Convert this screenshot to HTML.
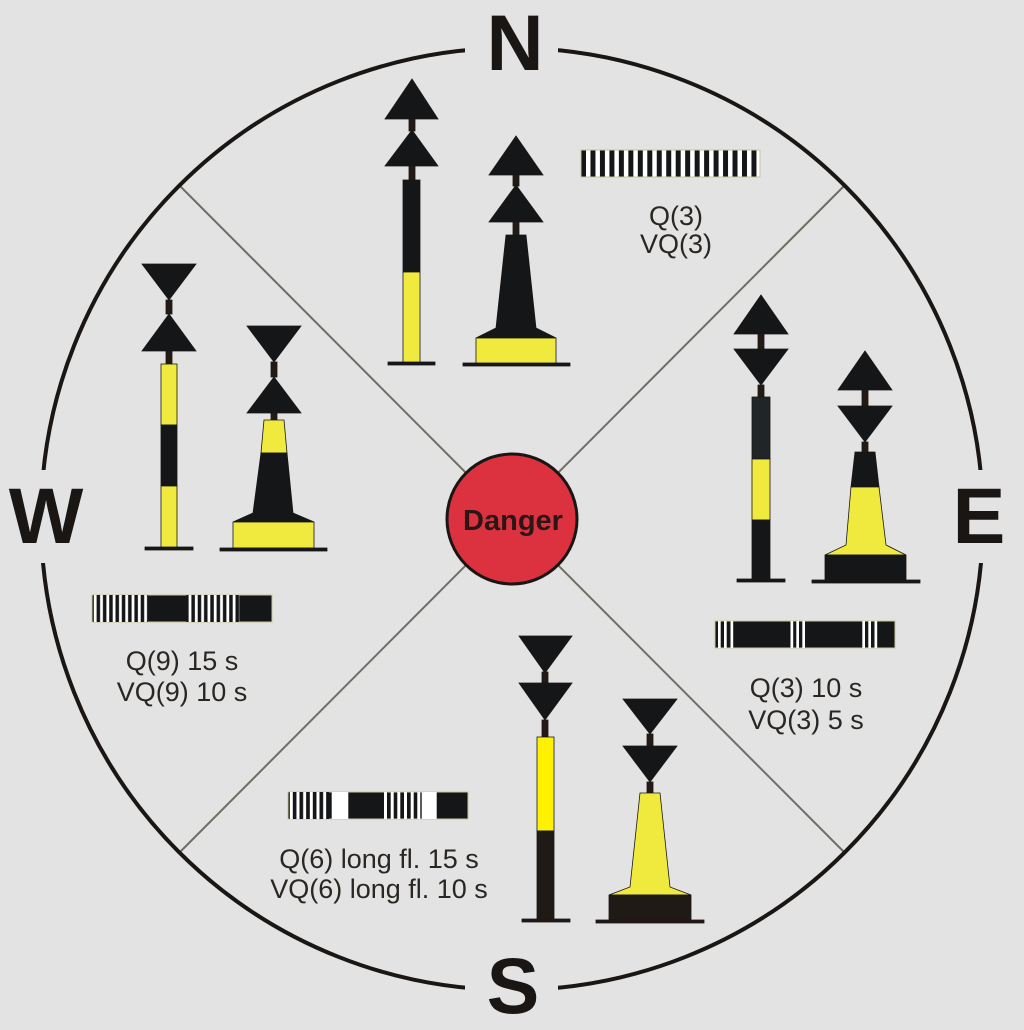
<!DOCTYPE html>
<html><head><meta charset="utf-8"><style>
html,body{margin:0;padding:0;background:#e3e3e3;}
svg{display:block;}
</style></head><body>
<svg width="1024" height="1030" viewBox="0 0 1024 1030" xmlns="http://www.w3.org/2000/svg">
<defs>
<pattern id="pn" patternUnits="userSpaceOnUse" x="581" y="0" width="9.47" height="10"><rect width="9.47" height="10" fill="#151617"/><rect x="5" width="4.5" height="10" fill="#fff"/></pattern>
<pattern id="pw" patternUnits="userSpaceOnUse" x="93" y="0" width="6.3" height="10"><rect width="6.3" height="10" fill="#151617"/><rect x="0.8" width="2.8" height="10" fill="#fff"/></pattern>
<pattern id="ps" patternUnits="userSpaceOnUse" x="289" y="0" width="6.67" height="10"><rect width="6.67" height="10" fill="#151617"/><rect x="0.8" width="3" height="10" fill="#fff"/></pattern>
</defs>
<rect width="1024" height="1030" fill="#e3e3e3"/>
<g stroke="#6e6e64" stroke-width="2">
<line x1="180" y1="186" x2="844" y2="852"/>
<line x1="844" y1="186" x2="180" y2="852"/>
</g>
<circle cx="512" cy="519" r="471" fill="none" stroke="#1a1614" stroke-width="4"/>
<rect x="465" y="10" width="93" height="70" fill="#e3e3e3"/>
<rect x="0" y="470" width="90" height="93" fill="#e3e3e3"/>
<rect x="934" y="470" width="90" height="93" fill="#e3e3e3"/>
<rect x="465" y="955" width="93" height="75" fill="#e3e3e3"/>
<g font-family="Liberation Sans, sans-serif" font-weight="bold" font-size="79" fill="#1a1614" text-anchor="middle">
<text x="515" y="70">N</text>
<text x="46" y="543">W</text>
<text x="979" y="543">E</text>
<text x="513" y="1013">S</text>
</g>
<circle cx="512" cy="519" r="65" fill="#dc323f" stroke="#1a1614" stroke-width="3"/>
<text x="513" y="530" font-family="Liberation Sans, sans-serif" font-weight="bold" font-size="29" fill="#2a1616" text-anchor="middle">Danger</text>

<g stroke="#1a1614" stroke-width="0.8">
<polygon points="412,79 438,119 385,119" fill="#151617"/>
<rect x="409" y="119" width="6" height="12" fill="#231a15"/>
<polygon points="412,130 438,166 385,166" fill="#151617"/>
<rect x="409" y="166" width="6" height="14" fill="#231a15"/>
<rect x="403" y="180" width="17" height="92" fill="#151617"/>
<rect x="403" y="272" width="17" height="91" fill="#f0ea3e"/>
<rect x="388" y="362" width="47" height="3" fill="#151617"/>
<polygon points="516,136 543,175 489,175" fill="#151617"/>
<rect x="513" y="175" width="6" height="11" fill="#231a15"/>
<polygon points="516,185 543,222 489,222" fill="#151617"/>
<rect x="513" y="222" width="6" height="13" fill="#231a15"/>
<polygon points="506,235 526,235 536,328 556,338 476,338 496,328" fill="#151617"/>
<rect x="476" y="338" width="80" height="26" fill="#f0ea3e"/>
<rect x="463" y="363" width="107" height="3" fill="#151617"/>

<polygon points="761,295 788,334 734,334" fill="#151617"/>
<rect x="758" y="334" width="6" height="15" fill="#231a15"/>
<polygon points="734,349 788,349 761,385" fill="#151617"/>
<rect x="758" y="385" width="6" height="12" fill="#231a15"/>
<rect x="752" y="397" width="18" height="62" fill="#202527"/>
<rect x="752" y="459" width="18" height="61" fill="#f0ea3e"/>
<rect x="752" y="520" width="18" height="60" fill="#151617"/>
<rect x="737" y="579" width="48" height="3" fill="#151617"/>
<polygon points="865,351 892,390 838,390" fill="#151617"/>
<rect x="862" y="390" width="6" height="16" fill="#231a15"/>
<polygon points="838,406 892,406 865,442" fill="#151617"/>
<rect x="862" y="442" width="6" height="10" fill="#231a15"/>
<polygon points="855,452 875,452 879,487 851,487" fill="#151617"/>
<polygon points="851,487 879,487 886,545 906,555 825,555 846,545" fill="#f0ea3e"/>
<rect x="825" y="555" width="81" height="26" fill="#151617"/>
<rect x="812" y="580" width="108" height="3" fill="#151617"/>

<polygon points="519,636 572,636 545,673" fill="#151617"/>
<rect x="542" y="672" width="6" height="12" fill="#231a15"/>
<polygon points="519,683 572,683 545,720" fill="#151617"/>
<rect x="542" y="720" width="6" height="17" fill="#231a15"/>
<rect x="537" y="737" width="17" height="94" fill="#fff200"/>
<rect x="537" y="831" width="17" height="89" fill="#201a16"/>
<rect x="522" y="919" width="48" height="3" fill="#201a16"/>
<polygon points="623,699 677,699 650,734" fill="#151617"/>
<rect x="647" y="734" width="6" height="12" fill="#231a15"/>
<polygon points="623,746 677,746 650,782" fill="#151617"/>
<rect x="647" y="782" width="6" height="11" fill="#231a15"/>
<polygon points="640,793 660,793 670,887 691,895 609,895 630,887" fill="#f0ea3e"/>
<rect x="609" y="895" width="82" height="26" fill="#201a16"/>
<rect x="596" y="920" width="108" height="3" fill="#201a16"/>

<polygon points="142,264 196,264 169,300" fill="#151617"/>
<rect x="166" y="300" width="6" height="14" fill="#231a15"/>
<polygon points="169,314 196,351 142,351" fill="#151617"/>
<rect x="166" y="351" width="6" height="13" fill="#231a15"/>
<rect x="161" y="364" width="16" height="61" fill="#f0ea3e"/>
<rect x="161" y="425" width="16" height="61" fill="#151617"/>
<rect x="161" y="486" width="16" height="62" fill="#f0ea3e"/>
<rect x="145" y="547" width="48" height="3" fill="#151617"/>
<polygon points="247,326 301,326 274,362" fill="#151617"/>
<rect x="271" y="362" width="6" height="15" fill="#231a15"/>
<polygon points="274,377 301,413 247,413" fill="#151617"/>
<rect x="271" y="413" width="6" height="7" fill="#231a15"/>
<polygon points="264,420 284,420 287,453 261,453" fill="#f0ea3e"/>
<polygon points="261,453 287,453 293,513 314,522 233,522 253,513" fill="#151617"/>
<rect x="233" y="522" width="81" height="26" fill="#f0ea3e"/>
<rect x="220" y="548" width="107" height="3" fill="#151617"/>
</g>

<rect x="581" y="150" width="179" height="27" fill="url(#pn)" stroke="#c8c49a" stroke-width="1"/>

<rect x="92" y="595" width="180" height="27" fill="#151617" stroke="#c8c49a" stroke-width="1"/>
<rect x="93" y="595" width="55" height="27" fill="url(#pw)"/>
<rect x="186" y="595" width="53" height="27" fill="url(#pw)" transform="translate(0.3,0)"/>

<rect x="715" y="621" width="180" height="27" fill="#151617" stroke="#c8c49a" stroke-width="1"/>
<g fill="#fff">
<rect x="718" y="621" width="2.7" height="27"/><rect x="724" y="621" width="2.7" height="27"/><rect x="730.5" y="621" width="2.7" height="27"/>
<rect x="790.5" y="621" width="2.7" height="27"/><rect x="796.3" y="621" width="2.7" height="27"/><rect x="802.3" y="621" width="2.7" height="27"/>
<rect x="862.3" y="621" width="2.7" height="27"/><rect x="868.3" y="621" width="2.7" height="27"/><rect x="874.5" y="621" width="2.7" height="27"/>
</g>

<rect x="288" y="792" width="180" height="27" fill="#151617" stroke="#c8c49a" stroke-width="1"/>
<rect x="289" y="792" width="40" height="27" fill="url(#ps)"/>
<rect x="331.7" y="792" width="16.6" height="27" fill="#fff"/>
<g fill="#fff">
<rect x="384" y="792" width="3" height="27"/><rect x="390.7" y="792" width="3" height="27"/><rect x="397.3" y="792" width="3" height="27"/>
<rect x="404" y="792" width="3" height="27"/><rect x="410.7" y="792" width="3" height="27"/><rect x="417.3" y="792" width="3" height="27"/>
</g>
<rect x="421.7" y="792" width="15" height="27" fill="#fff"/>

<g font-family="Liberation Sans, sans-serif" font-size="27" fill="#2a2622" text-anchor="middle">
<text x="676" y="225">Q(3)</text>
<text x="676" y="253">VQ(3)</text>
<text x="182" y="670">Q(9) 15 s</text>
<text x="182" y="701">VQ(9) 10 s</text>
<text x="806" y="697">Q(3) 10 s</text>
<text x="806" y="729">VQ(3) 5 s</text>
<text x="379" y="868">Q(6) long fl. 15 s</text>
<text x="379" y="898">VQ(6) long fl. 10 s</text>
</g>
</svg>
</body></html>
